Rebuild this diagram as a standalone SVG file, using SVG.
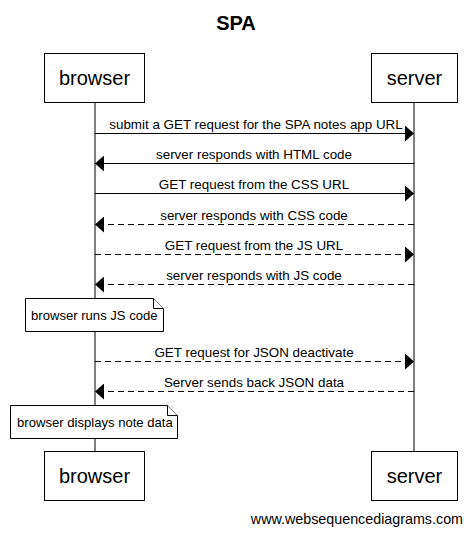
<svg xmlns="http://www.w3.org/2000/svg" width="472" height="534" viewBox="0 0 472 534">
<style>
text{font-family:"Liberation Sans",Arial,sans-serif;fill:#000}
.box{fill:#fff;stroke:#000;stroke-width:1}
.life{stroke:#000;stroke-width:1}
.msg{stroke:#000;stroke-width:1;fill:none}
.dash{stroke-dasharray:6,4}
.pt{font-size:20px;text-anchor:middle}
.mt{font-size:13.4px;text-anchor:middle}
.nt{font-size:13.1px}
.note{fill:#fff;stroke:#000;stroke-width:1}
</style>
<defs>
<marker id="ah" markerWidth="9" markerHeight="16" refX="9" refY="8" orient="auto" markerUnits="userSpaceOnUse">
<path d="M0,0 L9,8 L0,16 Z" fill="#000"/>
</marker>
</defs>
<rect width="472" height="534" fill="#fff"/>
<text x="236" y="30" font-size="20" font-weight="bold" text-anchor="middle">SPA</text>
<g id="lifelines">
<line class="life" x1="95" y1="102" x2="95" y2="451"/>
<line class="life" x1="414" y1="102" x2="414" y2="451"/>
</g>
<g id="browser">
<rect class="box" x="44.5" y="53.5" width="100" height="49"/>
<text class="pt" x="94.5" y="85">browser</text>
</g>
<g id="server">
<rect class="box" x="371.5" y="53.5" width="86" height="49"/>
<text class="pt" x="414.5" y="85">server</text>
</g>
<g id="browser-bottom">
<rect class="box" x="44.5" y="451.5" width="100" height="49"/>
<text class="pt" x="94.5" y="483">browser</text>
</g>
<g id="server-bottom">
<rect class="box" x="371.5" y="451.5" width="86" height="49"/>
<text class="pt" x="414.5" y="483">server</text>
</g>
<g id="connectors">
<line class="msg" x1="95" y1="133.5" x2="414" y2="133.5" marker-end="url(#ah)"/>
<text class="mt" x="256" y="129">submit a GET request for the SPA notes app URL</text>
<line class="msg" x1="414" y1="163.5" x2="95" y2="163.5" marker-end="url(#ah)"/>
<text class="mt" x="254" y="159">server responds with HTML code</text>
<line class="msg" x1="95" y1="193.5" x2="414" y2="193.5" marker-end="url(#ah)"/>
<text class="mt" x="254" y="189">GET request from the CSS URL</text>
<line class="msg dash" x1="414" y1="224.5" x2="95" y2="224.5" marker-end="url(#ah)"/>
<text class="mt" x="254" y="220">server responds with CSS code</text>
<line class="msg dash" x1="95" y1="254.5" x2="414" y2="254.5" marker-end="url(#ah)"/>
<text class="mt" x="254" y="250">GET request from the JS URL</text>
<line class="msg dash" x1="414" y1="284.5" x2="95" y2="284.5" marker-end="url(#ah)"/>
<text class="mt" x="254" y="280">server responds with JS code</text>
<line class="msg dash" x1="95" y1="361.5" x2="414" y2="361.5" marker-end="url(#ah)"/>
<text class="mt" x="254" y="357">GET request for JSON deactivate</text>
<line class="msg dash" x1="414" y1="391.5" x2="95" y2="391.5" marker-end="url(#ah)"/>
<text class="mt" x="254" y="387">Server sends back JSON data</text>
</g>
<g id="note1">
<path class="note" d="M25.5,298.5 H153.5 L163.5,308.5 V331.5 H25.5 Z"/>
<path class="note" d="M153.5,298.5 V308.5 H163.5" fill="none"/>
<text class="nt" x="31" y="320">browser runs JS code</text>
</g>
<g id="note2">
<path class="note" d="M10.5,405.5 H167.5 L177.5,415.5 V438.5 H10.5 Z"/>
<path class="note" d="M167.5,405.5 V415.5 H177.5" fill="none"/>
<text class="nt" x="17" y="427">browser displays note data</text>
</g>
<text x="463" y="524" font-size="14.3" text-anchor="end">www.websequencediagrams.com</text>
</svg>
